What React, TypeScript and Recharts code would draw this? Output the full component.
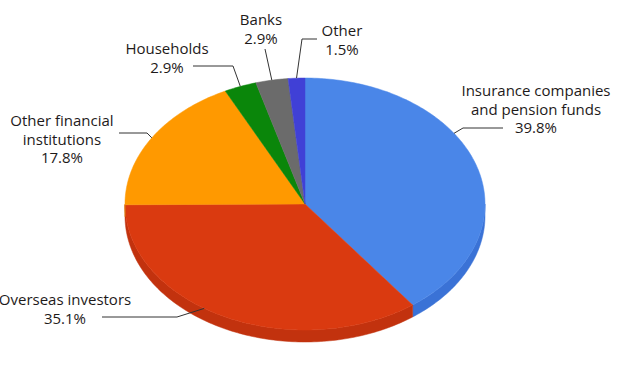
import React from 'react';
import { PieChart, Pie, Cell } from 'recharts';

const names = [
  'Insurance companies and pension funds',
  'Overseas investors',
  'Other financial institutions',
  'Households',
  'Banks',
  'Other',
];
const values = [39.8, 35.1, 17.8, 2.9, 2.9, 1.5];
const labelLines = [
  ['Insurance companies', 'and pension funds', '39.8%'],
  ['Overseas investors', '35.1%'],
  ['Other financial', 'institutions', '17.8%'],
  ['Households', '2.9%'],
  ['Banks', '2.9%'],
  ['Other', '1.5%'],
];

const COLORS = ['#4a86e8', '#da3a10', '#ff9900', '#0a860a', '#6b6b6b', '#4040d6'];
const WALLS = ['#3a72d6', '#c2320e', '#e08800', '#08700a', '#555555', '#3232b0'];

const data = names.map((name, i) => ({ name, value: values[i] }));

const TILT = 0.7;
const DEPTH = 12;

// label layout: fraction along slice for leader anchor, leader elbow/end, text center + first baseline
const LAYOUT = [
  { f: 0.39, pts: [[463, 128], [503, 128]], tx: 536, ty: 96 },
  { f: 0.56, pts: [[177, 317], [102, 317]], tx: 65, ty: 305 },
  { f: 0.5, pts: [[147, 133], [119, 133]], tx: 62, ty: 126 },
  { f: 0.5, pts: [[233, 66], [193, 66]], tx: 167, ty: 54 },
  { f: 0.5, pts: [[265, 49]], tx: 261, ty: 25 },
  { f: 0.5, pts: [[302, 39], [317, 39]], tx: 342, ty: 36 },
];

const RAD = Math.PI / 180;
const ept = (cx: number, cy: number, r: number, a: number, dy = 0) => [
  cx + r * Math.cos(a * RAD),
  cy - r * TILT * Math.sin(a * RAD) + dy,
];

const renderSector = (props: any) => {
  const { cx, cy, outerRadius, startAngle, endAngle, fill } = props;
  const hi = Math.max(startAngle, endAngle);
  const lo = Math.min(startAngle, endAngle);
  const idx = COLORS.indexOf(fill);
  const wallFill = idx >= 0 ? WALLS[idx] : fill;
  const steps = Math.max(2, Math.ceil((hi - lo) / 1));
  const top: string[] = [];
  for (let s = 0; s <= steps; s++) {
    const a = hi - ((hi - lo) * s) / steps;
    const p = ept(cx, cy, outerRadius, a);
    top.push(`${p[0].toFixed(2)},${p[1].toFixed(2)}`);
  }
  const facePath = `M${cx},${cy} L${top.join(' L')} Z`;
  const walls: string[] = [];
  for (let k = -1; k <= 1; k++) {
    const L = -180 + 360 * k;
    const H = 360 * k;
    const a1 = Math.max(lo, L);
    const a2 = Math.min(hi, H);
    if (a2 - a1 > 0.01) {
      const n = Math.max(2, Math.ceil(a2 - a1));
      const upper: string[] = [];
      const lower: string[] = [];
      for (let s = 0; s <= n; s++) {
        const a = a2 - ((a2 - a1) * s) / n;
        const p = ept(cx, cy, outerRadius, a);
        const q = ept(cx, cy, outerRadius, a, DEPTH);
        upper.push(`${p[0].toFixed(2)},${p[1].toFixed(2)}`);
        lower.unshift(`${q[0].toFixed(2)},${q[1].toFixed(2)}`);
      }
      walls.push(`M${upper.join(' L')} L${lower.join(' L')} Z`);
    }
  }
  return (
    <g>
      {walls.map((d, i) => (
        <path key={i} d={d} fill={wallFill} stroke={wallFill} strokeWidth={0.5} />
      ))}
      <path d={facePath} fill={fill} stroke={fill} strokeWidth={0.5} />
    </g>
  );
};

const renderLabel = (props: any) => {
  const { cx, cy, outerRadius, startAngle, endAngle, index } = props;
  const lay = LAYOUT[index];
  if (!lay) return null;
  const a = startAngle + lay.f * (endAngle - startAngle);
  const anchor = ept(cx, cy, outerRadius, a);
  const pts = [anchor, ...lay.pts];
  const lines = labelLines[index];
  return (
    <g key={`lbl-${index}`}>
      <polyline
        points={pts.map((p) => `${p[0]},${p[1]}`).join(' ')}
        fill="none"
        stroke="#333"
        strokeWidth={1}
      />
      <text
        x={lay.tx}
        y={lay.ty}
        textAnchor="middle"
        fontFamily="'Open Sans', sans-serif"
        fontSize={15}
        fill="#1e1a1a"
      >
        {lines.map((t, i) => (
          <tspan key={i} x={lay.tx} dy={i === 0 ? 0 : 18.5}>
            {t}
          </tspan>
        ))}
      </text>
    </g>
  );
};

export default function App() {
  return (
    <div style={{ position: 'absolute', left: 0, top: 0, width: 640, height: 374, background: '#fff' }}>
      <PieChart width={640} height={374} margin={{ top: 0, right: 0, bottom: 0, left: 0 }}>
        <Pie
          data={data}
          dataKey="value"
          nameKey="name"
          cx={305}
          cy={204}
          outerRadius={180}
          startAngle={90}
          endAngle={-270}
          isAnimationActive={false}
          stroke="none"
          shape={renderSector}
          activeShape={renderSector}
          label={renderLabel}
          labelLine={false}
        >
          {data.map((d, i) => (
            <Cell key={d.name} fill={COLORS[i]} />
          ))}
        </Pie>
      </PieChart>
    </div>
  );
}
